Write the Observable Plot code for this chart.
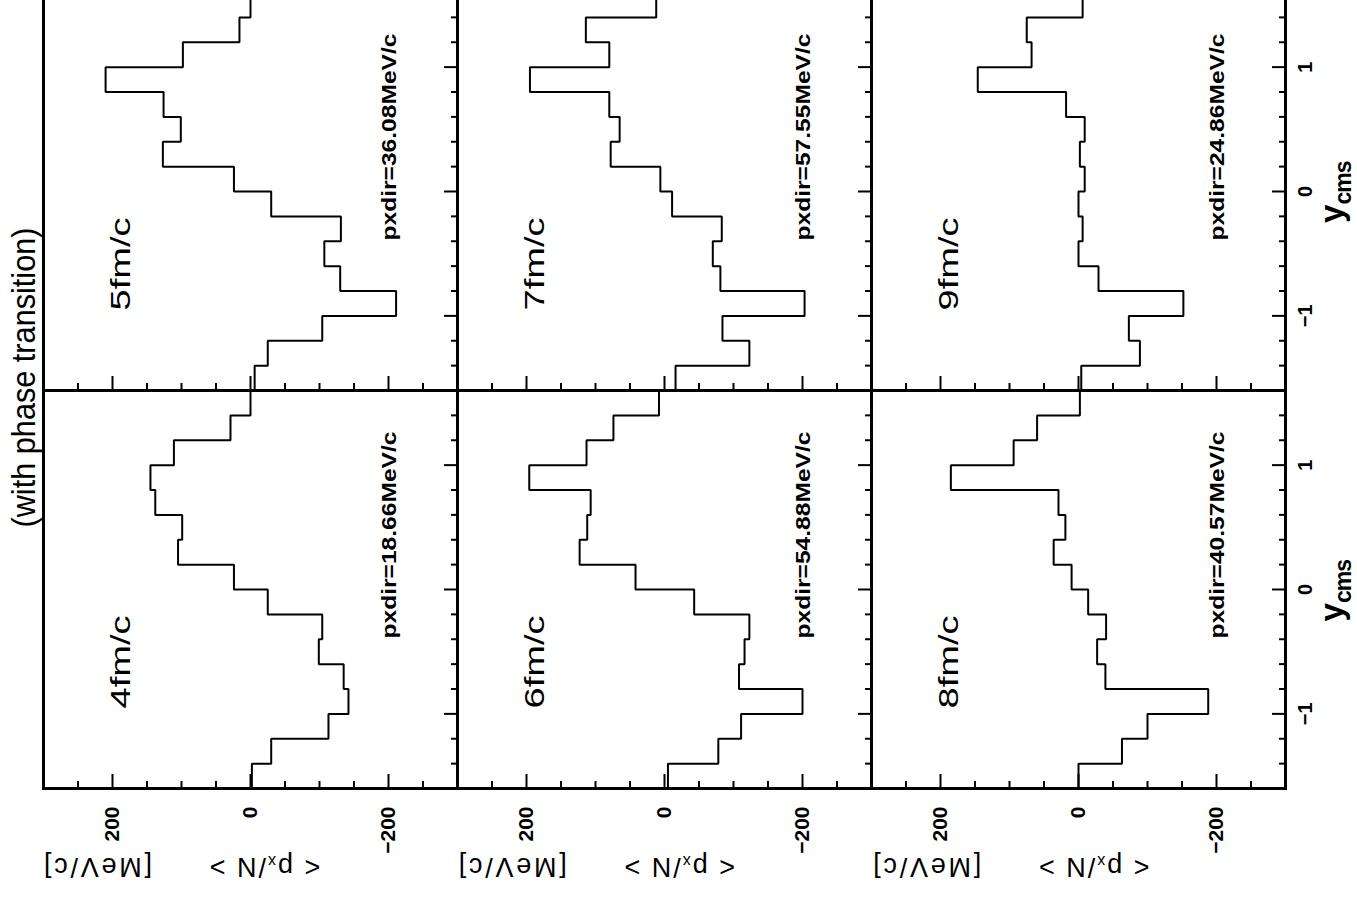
<!DOCTYPE html>
<html>
<head>
<meta charset="utf-8">
<script src="https://cdn.jsdelivr.net/npm/d3@7"></script>
<script src="https://cdn.jsdelivr.net/npm/@observablehq/plot@0.6"></script>
<style>
  html, body { margin: 0; padding: 0; background: #fff; }
  #page { position: relative; width: 1357px; height: 898px; overflow: hidden; background: #fff; }
  /* the figure is laid out upright and shown turned a quarter turn counter-clockwise */
  #page svg { position: absolute; left: 0; top: 0; transform-origin: 0 0;
              transform: translate(0px, 898px) rotate(-90deg); }
</style>
</head>
<body>
<div id="page"></div>
<script>
// Rapidity (y_cms) bin edges shared by every panel
const binEdges = [-1.6, -1.4, -1.2, -1.0, -0.8, -0.6, -0.4, -0.2, 0, 0.2, 0.4, 0.6, 0.8, 1.0, 1.2, 1.4, 1.6];

// <p_x/N> [MeV/c] per rapidity bin, lowest bin first
const px4 = [-2, -30, -113, -142, -135, -99, -104, -25, 24, 105, 99, 138, 145, 111, 29, 0];
const px5 = [-6, -25, -104, -211, -130, -107, -131, -30, 24, 127, 101, 126, 210, 98, 16, 0];
const px6 = [-5, -78, -111, -200, -108, -116, -123, -43, 42, 123, 112, 107, 196, 113, 74, 8];
const px7 = [-16, -123, -84, -203, -81, -70, -83, -11, 6, 78, 65, 80, 195, 80, 114, 12];
const px8 = [0, -63, -100, -188, -39, -27, -40, -14, 10, 36, 19, 29, 185, 94, 60, -2];
const px9 = [-4, -89, -73, -152, -29, 0, -6, 0, -9, -2, -9, 18, 146, 68, 75, -6];

const times = ["4fm/c", "5fm/c", "6fm/c", "7fm/c", "8fm/c", "9fm/c"];
const pxdir = ["18.66", "36.08", "54.88", "57.55", "40.57", "24.86"];

// axis ticks
const pxTicks = [-250, -200, -150, -100, -50, 0, 50, 100, 150, 200, 250];
const pxMajor = [-200, 0, 200];
const pxLabels = [200, 0, -200];
const yTicks = [-1.4, -1.2, -1.0, -0.8, -0.6, -0.4, -0.2, 0, 0.2, 0.4, 0.6, 0.8, 1.0, 1.2, 1.4];
const yMajor = [-1, 0, 1];
const yLabels = [-1, 0, 1];

const series = [px4, px5, px6, px7, px8, px9];
const panels = times.map((t, i) => ({time: t, pxdir: pxdir[i], col: i % 2 ? "R" : "L", row: Math.floor(i / 2)}));

// histogram outline: each bin contributes its two edge points at the bin value
const steps = panels.flatMap((p, i) =>
  series[i].flatMap((v, j) => [
    {time: p.time, col: p.col, row: p.row, y: binEdges[j], px: v},
    {time: p.time, col: p.col, row: p.row, y: binEdges[j + 1], px: v}
  ])
);

const W = 905, H = 1357, ML = 108, MR = 0, MT = 42, MB = 71;
const colW = (W - ML - MR) / 2, rowH = (H - MT - MB) / 3;
const kx = colW / 3.2, ky = rowH / 600;   // pixels per data unit
const fmt = v => (v < 0 ? "\u2212" + Math.abs(v) : String(v));

const pxLabelData = [0, 1, 2].flatMap(row => pxLabels.map(v => ({col: "L", row, v})));
const yLabelData = ["L", "R"].flatMap(col => yLabels.map(v => ({col, row: 2, v})));

const font = "'Liberation Sans', Arial, Helvetica, sans-serif";

const svg = Plot.plot({
  width: W, height: H,
  marginLeft: ML, marginRight: MR, marginTop: MT, marginBottom: MB,
  style: {fontFamily: font, background: "white", color: "black", overflow: "visible"},
  fx: {domain: ["L", "R"], padding: 0, axis: null},
  fy: {domain: [0, 1, 2], padding: 0, axis: null},
  x: {domain: [-1.6, 1.6], axis: null},
  y: {domain: [-300, 300], axis: null},
  marks: [
    Plot.ruleY(pxTicks, {y: d => d, x1: -1.6, x2: d => -1.6 + (pxMajor.includes(d) ? 15 : 8) / kx,
      stroke: "black", strokeWidth: 2}),
    Plot.ruleX(yTicks, {x: d => d, y1: -300, y2: d => -300 + (yMajor.includes(d) ? 13 : 6) / ky,
      stroke: "black", strokeWidth: 2}),
    Plot.line(steps, {x: "y", y: "px", z: "time", fx: "col", fy: "row",
      stroke: "black", strokeWidth: 2, strokeLinejoin: "miter"}),
    Plot.frame({stroke: "black", strokeWidth: 3}),
    Plot.text(pxLabelData, {fx: "col", fy: "row", x: -1.6, y: "v", text: d => fmt(d.v),
      textAnchor: "end", dx: -18, fontSize: 21, fontWeight: "bold", fill: "black"}),
    Plot.text(yLabelData, {fx: "col", fy: "row", x: "v", y: -300, text: d => fmt(d.v),
      lineAnchor: "top", dy: 12, fontSize: 20, fontWeight: "bold", fill: "black"}),
    Plot.text(panels, {fx: "col", fy: "row", frameAnchor: "top-left", text: "time",
      dx: 80, dy: 78, textAnchor: "start", lineAnchor: "middle", fontSize: 28, fill: "black"}),
    Plot.text(panels, {fx: "col", fy: "row", frameAnchor: "bottom-left",
      text: d => `pxdir=${d.pxdir}MeV/c`, dx: 150, dy: -68, textAnchor: "start", lineAnchor: "middle",
      fontSize: 20, fontWeight: "bold", fill: "black"})
  ]
});

const root = d3.select(svg);

// widen the in-panel labels to their printed lengths
root.selectAll("text")
  .filter(function() { return times.includes(this.textContent); })
  .attr("textLength", 93).attr("lengthAdjust", "spacingAndGlyphs");
root.selectAll("text")
  .filter(function() { return this.textContent.startsWith("pxdir="); })
  .attr("textLength", 207).attr("lengthAdjust", "spacingAndGlyphs");

// title above both columns
root.append("text")
  .attr("x", ML + colW + 14).attr("y", 35)
  .attr("text-anchor", "middle")
  .attr("font-family", font).attr("font-size", 33).attr("fill", "black")
  .attr("textLength", 300).attr("lengthAdjust", "spacingAndGlyphs")
  .text("(with phase transition)");

// rotated y-axis title for each row
for (let r = 0; r < 3; r++) {
  const top = MT + r * rowH;
  const t1 = root.append("text")
    .attr("transform", `translate(31,${top + 222}) rotate(-90)`)
    .attr("text-anchor", "middle").attr("dominant-baseline", "central")
    .attr("font-family", font).attr("font-size", 27).attr("fill", "black")
    .attr("letter-spacing", "2px");
  t1.append("tspan").text("< p");
  t1.append("tspan").attr("font-size", 16).attr("dy", 5).text("x");
  t1.append("tspan").attr("dy", -5).text("/N >");
  root.append("text")
    .attr("transform", `translate(31,${top + 56}) rotate(-90)`)
    .attr("text-anchor", "middle").attr("dominant-baseline", "central")
    .attr("font-family", font).attr("font-size", 27).attr("fill", "black")
    .attr("textLength", 108).attr("lengthAdjust", "spacing")
    .text("[MeV/c]");
}

// x-axis title under each column
for (let c = 0; c < 2; c++) {
  const cx = ML + c * colW + colW / 2;
  const t = root.append("text")
    .attr("x", cx).attr("y", H - 14)
    .attr("text-anchor", "middle")
    .attr("font-family", font).attr("font-weight", "bold").attr("fill", "black");
  t.append("tspan").attr("font-size", 33).text("y");
  t.append("tspan").attr("font-size", 23).attr("dy", 8).attr("letter-spacing", "-1px").text("cms");
}

document.getElementById("page").appendChild(svg);
</script>
</body>
</html>
